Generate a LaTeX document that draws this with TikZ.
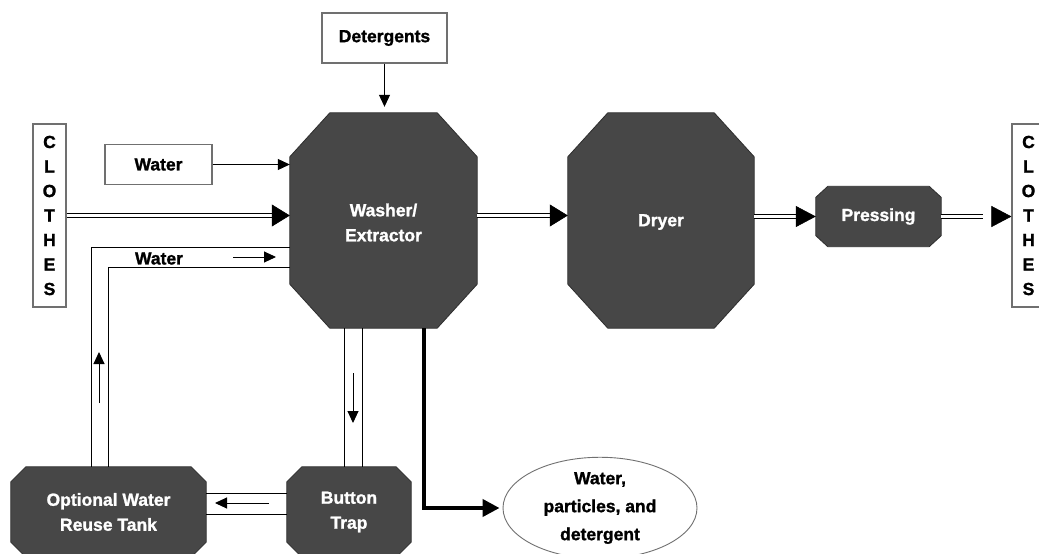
\documentclass[tikz,border=0pt]{standalone}
\usepackage{fontspec}
\setmainfont{Liberation Sans}[BoldFeatures={FakeBold=1.3}]
\usetikzlibrary{arrows.meta,shapes.geometric,backgrounds}
\definecolor{octfill}{HTML}{474747}
\definecolor{octline}{HTML}{2E2E2E}
\definecolor{boxgray}{HTML}{707070}
\tikzset{
  lbl/.style={font=\fontsize{17.5}{25}\selectfont\bfseries, align=center},
  whitebox/.style={draw=boxgray, line width=1.1pt, fill=white, lbl, inner sep=0pt},
  octnode/.style={lbl, text=white, inner sep=0pt},
  pipe/.style={line width=1pt},
  thinarr/.style={line width=1pt, -{Triangle[length=12pt,width=11pt]}},
  dblarr/.style={line width=5pt, shorten >=16pt,
    postaction={draw=white, line width=3pt},
    postaction={draw=white, line width=0.5pt, shorten >=0pt, -{Triangle[length=18pt,width=22pt,color=black]}}},
  dblarrB/.style={line width=5pt, shorten >=18pt,
    postaction={draw=white, line width=3pt},
    postaction={draw=white, line width=0.5pt, shorten >=0pt, -{Triangle[length=20pt,width=21pt,color=black]}}},
  drain/.style={line width=4pt, -{Triangle[length=17pt,width=17pt]}},
}
\newcommand\drawoct[3]{%
  \begin{scope}[on background layer]
  \filldraw[fill=octfill, draw=octline, line width=0.8pt]
    ([xshift=#2]#1.north west) -- ([xshift=-#2]#1.north east)
    -- ([yshift=-#3]#1.north east) -- ([yshift=#3]#1.south east)
    -- ([xshift=-#2]#1.south east) -- ([xshift=#2]#1.south west)
    -- ([yshift=#3]#1.south west) -- ([yshift=-#3]#1.north west) -- cycle;
  \end{scope}}
\begin{document}
\begin{tikzpicture}[x=1pt,y=-1pt]
\begin{scope}[on background layer]
\fill[white] (0,0) rectangle (1039,554);
\end{scope}
\useasboundingbox (0,0) rectangle (1039,554);

% process octagons
\node[octnode, minimum width=187pt, minimum height=215pt] (washer) at (383.5,220.5) {};
\node[octnode] (washertxt) at (383.5,222.5) {Washer/\\Extractor};
\drawoct{washer}{40pt}{44pt}
\node[octnode, minimum width=186pt, minimum height=215pt] (dryer) at (661,220.5) {};
\node[octnode] (dryertxt) at (661,222) {Dryer};
\drawoct{dryer}{40pt}{44pt}
\node[octnode, minimum width=125pt, minimum height=60pt] (pressing) at (878.5,216.5) {Pressing};
\drawoct{pressing}{12pt}{11pt}
\node[octnode, minimum width=195pt, minimum height=90pt] (tank) at (108.5,512) {Optional Water\\Reuse Tank};
\drawoct{tank}{15pt}{15pt}
\node[octnode, minimum width=124pt, minimum height=90pt] (trap) at (349,512) {Button\\Trap};
\drawoct{trap}{15pt}{15pt}

% boxes
\node[whitebox, minimum width=125pt, minimum height=50pt] (det) at (384.5,38) {Detergents};
\node[whitebox, minimum width=107pt, minimum height=40pt] (water) at (158.5,164.5) {Water};
\node[whitebox, minimum width=33pt, minimum height=183pt, font=\fontsize{17.5}{24.5}\selectfont\bfseries] (clothesL) at (49.5,215.5) {C\\L\\O\\T\\H\\E\\S};
\node[whitebox, minimum width=33pt, minimum height=183pt, font=\fontsize{17.5}{24.5}\selectfont\bfseries] (clothesR) at (1028.5,215.5) {C\\L\\O\\T\\H\\E\\S};
\node[ellipse, draw=boxgray, line width=0.9pt, lbl, font=\fontsize{17.5}{28}\selectfont\bfseries, minimum width=194pt, minimum height=79pt, inner sep=0pt] (out) at (600,508) {Water,\\particles, and\\detergent};

% inputs
\draw[thinarr, shorten >=6pt] (det.south) -- (det.south |- washer.north);
\draw[thinarr] (water.east) -- (water.east -| washer.west);
\draw[dblarr] (clothesL.east) -- (clothesL.east -| washer.west);

% main flow
\draw[dblarr] ([yshift=5pt]washer.east) -- ([yshift=5pt]washer.east -| dryer.west);
\draw[dblarrB] (pressing.west -| dryer.east) -- (pressing.west);
\draw[dblarrB, shorten >=28pt] (pressing.east) -- (pressing.east -| clothesR.west);

% water recirculation loop
\draw[pipe] ([xshift=-17.5pt]tank.north) |- ([yshift=-26.5pt]washer.west);
\draw[pipe] (tank.north) |- ([yshift=-46.5pt]washer.west);
\node[lbl, inner sep=0pt] (wlabel) at (159,258.5) {Water};
\draw[pipe] ([xshift=-5pt]trap.north) -- ([xshift=-5pt]trap.north |- washer.south);
\draw[pipe] ([xshift=13pt]trap.north) -- ([xshift=13pt]trap.north |- washer.south);
\draw[pipe] ([yshift=19pt]trap.west) -- ([yshift=19pt]trap.west -| tank.east);
\draw[pipe] ([yshift=-2pt]trap.west) -- ([yshift=-2pt]trap.west -| tank.east);

% flow indicators
\coordinate (r1) at (233,257); \coordinate (r2) at (276,257);
\coordinate (u1) at (99,403);  \coordinate (u2) at (99,352);
\coordinate (d1) at (353,373); \coordinate (d2) at (353,423);
\coordinate (l1) at (269,503); \coordinate (l2) at (215,503);
\draw[thinarr] (r1) -- (r2);
\draw[thinarr] (u1) -- (u2);
\draw[thinarr] (d1) -- (d2);
\draw[thinarr] (l1) -- (l2);

% drain
\draw[drain, shorten >=3pt] ([xshift=40.5pt]washer.south) |- (out.west);
\end{tikzpicture}
\end{document}
